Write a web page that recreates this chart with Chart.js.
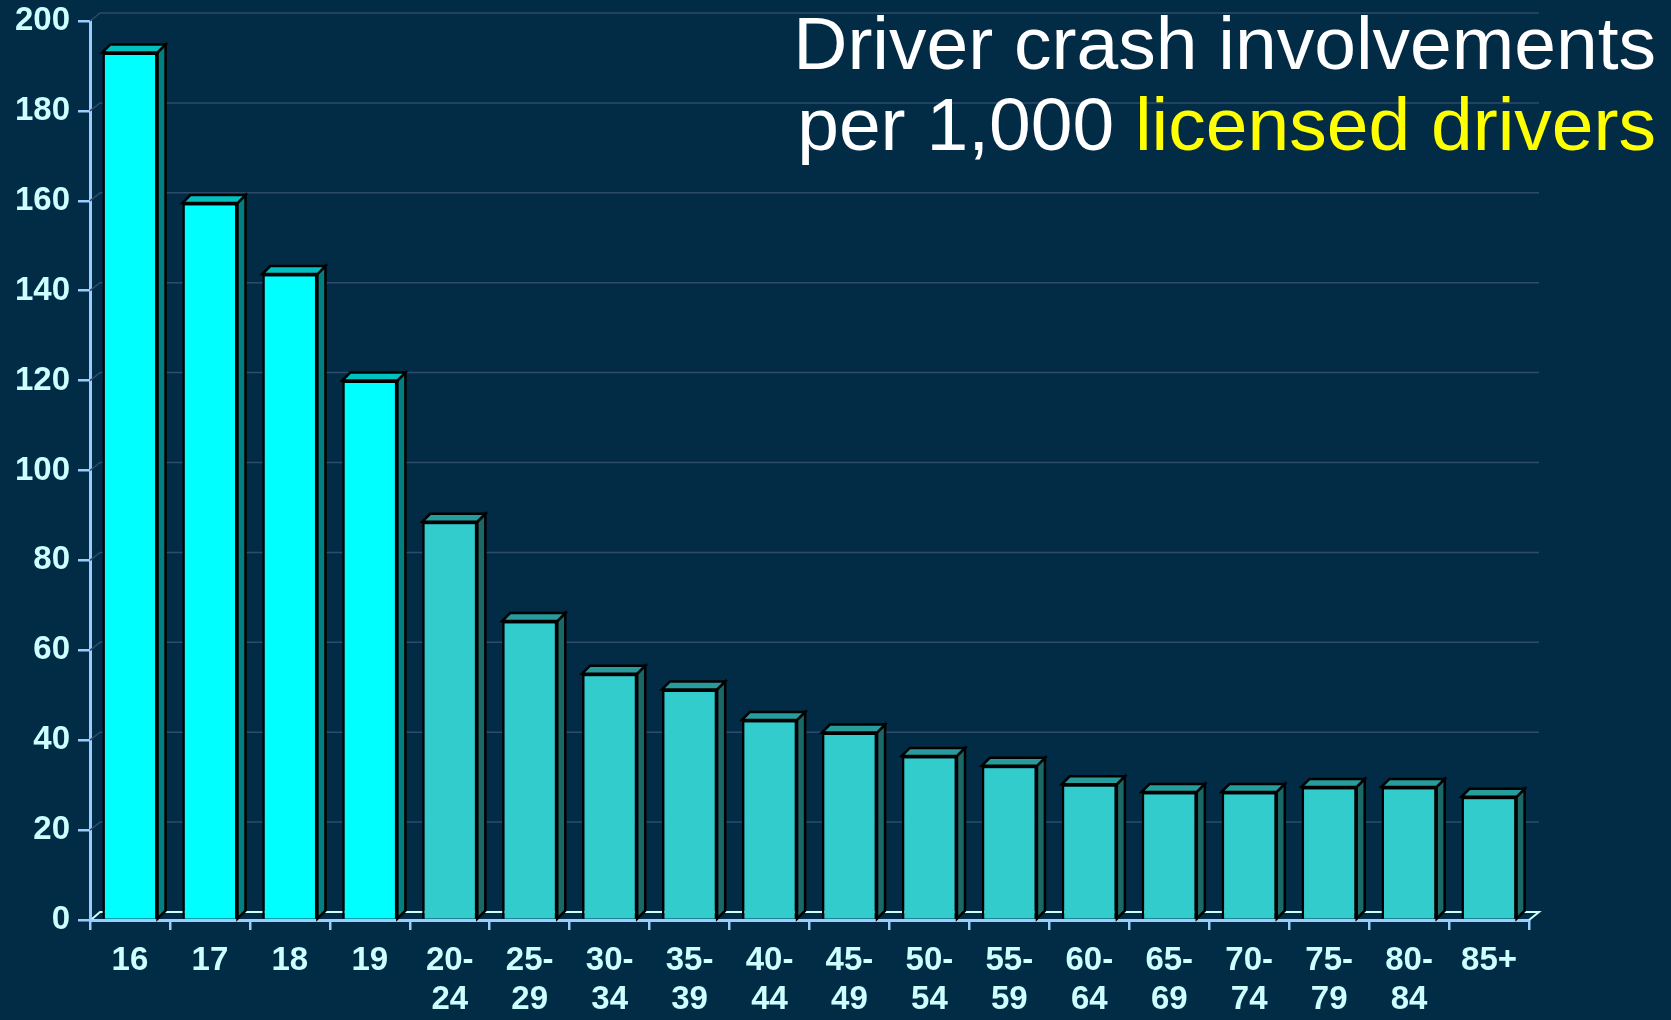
<!DOCTYPE html>
<html>
<head>
<meta charset="utf-8">
<script src="https://cdn.jsdelivr.net/npm/chart.js@4.4.1/dist/chart.umd.min.js"></script>
<style>
  html, body { margin: 0; padding: 0; background: #022c46; }
  #wrap { position: relative; width: 1671px; height: 1020px; overflow: hidden; }
  #title {
    position: absolute; top: 3px; right: 15px;
    font-family: "Liberation Sans", Arial, sans-serif;
    font-size: 75px; line-height: 81px; color: #ffffff;
    text-align: right; white-space: nowrap; z-index: 2;
  }
  #title .hl { color: #ffff00; }
</style>
</head>
<body>
<div id="wrap">
  <canvas id="chart" width="1671" height="1020"></canvas>
  <div id="title">Driver crash involvements<br>per 1,000 <span class="hl">licensed drivers</span></div>
</div>
<script>
// age groups along the bottom
const ageGroups = [
  "16", "17", "18", "19",
  ["20-", "24"], ["25-", "29"], ["30-", "34"], ["35-", "39"], ["40-", "44"],
  ["45-", "49"], ["50-", "54"], ["55-", "59"], ["60-", "64"], ["65-", "69"],
  ["70-", "74"], ["75-", "79"], ["80-", "84"], "85+",
];

// crash involvements per 1,000 licensed drivers
const crashRate = [
  193, 159.5, 143.7, 120, 88.6, 66.5, 54.8, 51.3, 44.5,
  41.7, 36.5, 34.3, 30.2, 28.5, 28.5, 29.6, 29.6, 27.4,
];

// teen ages are the highlighted ones
const teenCount = 4;

// -----------------------------------------------------
// colours
// -----------------------------------------------------
const FRONT = ["#00ffff", "#33cccc"];
const SIDE = ["#008080", "#1b6868"];
const TOP = ["#00c0c0", "#269c9c"];
const AXIS = "#99ccff";
const LABEL = "#ccffff";
const WALL_GRID = "#2e4a6c";
const FLOOR = "#ccffff";

const tone = (i) => (i < teenCount ? 0 : 1);

// -----------------------------------------------------
// fake 3-D: back wall grid, floor edge, bar sides and tops
// -----------------------------------------------------
const BAR_DX = 8, BAR_DY = 8;
const WALL_DX = 10, WALL_DY = 8;

const threeD = {
  id: "threeD",

  beforeDatasetsDraw(chart) {
    const { ctx, chartArea } = chart;
    const y = chart.scales.y;
    ctx.save();
    ctx.lineWidth = 1.5;
    ctx.strokeStyle = WALL_GRID;
    y.ticks.forEach((t) => {
      if (t.value === 0) return;
      const py = y.getPixelForValue(t.value);
      ctx.beginPath();
      ctx.moveTo(chartArea.left, py);
      ctx.lineTo(chartArea.left + WALL_DX, py - WALL_DY);
      ctx.lineTo(chartArea.right + WALL_DX, py - WALL_DY);
      ctx.stroke();
    });

    // floor back edge
    const base = y.getPixelForValue(0);
    ctx.strokeStyle = FLOOR;
    ctx.lineWidth = 2;
    ctx.beginPath();
    ctx.moveTo(chartArea.left + 2, base - 1);
    ctx.lineTo(chartArea.left + WALL_DX, base - WALL_DY);
    ctx.lineTo(chartArea.right + WALL_DX, base - WALL_DY);
    ctx.lineTo(chartArea.right, base);
    ctx.stroke();
    ctx.restore();
  },

  afterDatasetsDraw(chart) {
    const { ctx } = chart;
    const meta = chart.getDatasetMeta(0);
    ctx.save();
    ctx.lineWidth = 2.5;
    ctx.strokeStyle = "#000000";
    ctx.lineJoin = "miter";
    meta.data.forEach((bar, i) => {
      const { x, y, width, base } = bar.getProps(["x", "y", "width", "base"], true);
      const l = x - width / 2, r = x + width / 2;

      // side face
      ctx.fillStyle = SIDE[tone(i)];
      ctx.beginPath();
      ctx.moveTo(r, y);
      ctx.lineTo(r + BAR_DX, y - BAR_DY);
      ctx.lineTo(r + BAR_DX, base - BAR_DY);
      ctx.lineTo(r, base);
      ctx.closePath();
      ctx.fill();
      ctx.stroke();

      // top face
      ctx.fillStyle = TOP[tone(i)];
      ctx.beginPath();
      ctx.moveTo(l, y);
      ctx.lineTo(l + BAR_DX, y - BAR_DY);
      ctx.lineTo(r + BAR_DX, y - BAR_DY);
      ctx.lineTo(r, y);
      ctx.closePath();
      ctx.fill();
      ctx.stroke();
    });
    ctx.restore();
  },
};

const fontFamily = "'Liberation Sans', Arial, sans-serif";

new Chart(document.getElementById("chart").getContext("2d"), {
  type: "bar",
  data: {
    labels: ageGroups,
    datasets: [{
      data: crashRate,
      backgroundColor: crashRate.map((_, i) => FRONT[tone(i)]),
      borderColor: "#000000",
      borderWidth: 2.5,
      barPercentage: 0.69,
      categoryPercentage: 1,
    }],
  },
  options: {
    responsive: false,
    animation: false,
    layout: { padding: { top: 21, right: 142, left: 0, bottom: 0 } },
    plugins: {
      legend: { display: false },
      tooltip: { enabled: false },
    },
    scales: {
      x: {
        z: 1,
        grid: { drawOnChartArea: false, drawTicks: true, tickLength: 10, color: AXIS, lineWidth: 2.5, offset: true },
        border: { color: AXIS, width: 3 },
        ticks: {
          color: LABEL,
          font: { family: fontFamily, size: 33, weight: "bold", lineHeight: 1.2 },
          padding: 11, maxRotation: 0, autoSkip: false,
        },
        afterFit: (scale) => { scale.height = 100; },
      },
      y: {
        z: 1,
        min: 0,
        max: 200,
        grid: { drawOnChartArea: false, drawTicks: true, tickLength: 12, color: AXIS, lineWidth: 2.5 },
        border: { color: AXIS, width: 3 },
        ticks: {
          stepSize: 20, color: LABEL, padding: 8,
          font: { family: fontFamily, size: 33, weight: "bold" },
        },
        afterFit: (scale) => {
          scale.width = 90;
          // let the top label hang over the layout padding
          scale.paddingTop = 0;
          scale.paddingBottom = 0;
        },
      },
    },
  },
  plugins: [threeD],
});
</script>
</body>
</html>
